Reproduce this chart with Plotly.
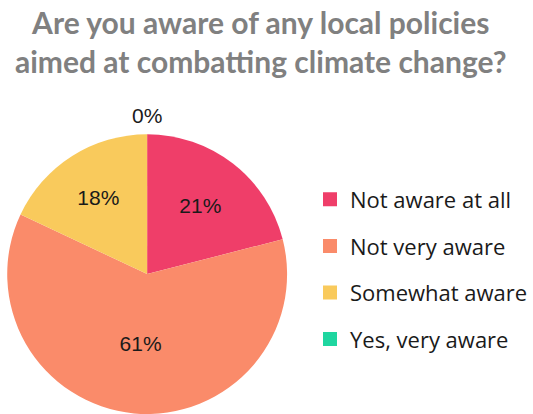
import plotly.graph_objects as go

categories = ["Not aware at all", "Not very aware", "Somewhat aware", "Yes, very aware"]
values = [21, 61, 18, 0]
colors = ["#EF3E69", "#FA8B6A", "#F9CA5C", "#1FD6A0"]
title_text = "Are you aware of any local policies<br>aimed at combatting climate change?"

total = sum(values)
zero_labels = [f"{round(100 * v / total)}%" for v in values if v == 0]

fig = go.Figure()
fig.add_trace(go.Pie(
    labels=categories, values=values, sort=False, direction="clockwise", rotation=0,
    marker=dict(colors=colors, line=dict(width=0)),
    texttemplate="%{percent:.0%}",
    textposition=["inside" if v > 0 else "none" for v in values],
    insidetextorientation="horizontal",
    textfont=dict(family="Liberation Sans", size=21, color="#1a1a1a"),
    showlegend=False, domain=dict(x=[0.0131, 0.5422], y=[0.0, 0.676]),
    hoverinfo="label+percent",
))
for i, c in enumerate(categories):
    fig.add_trace(go.Scatter(
        x=[None], y=[None], mode="markers", name=c, legendgroup=str(i),
        marker=dict(symbol="square", size=14, color=colors[i]),
    ))

annotations = [dict(text=title_text, x=0.492, xref="paper", xanchor="center",
                    y=0.996, yref="paper", yanchor="top", showarrow=False,
                    font=dict(family="Lato", size=30, color="#808080", weight="bold"))]
for t in zero_labels:
    annotations.append(dict(text=t, x=148 / 533, xref="paper", xanchor="center",
                            y=1 - 115 / 414, yref="paper", yanchor="middle", showarrow=False,
                            font=dict(family="Liberation Sans", size=21, color="#1a1a1a")))

fig.update_layout(
    width=533, height=414,
    margin=dict(l=0, r=0, t=0, b=0),
    paper_bgcolor="white", plot_bgcolor="white",
    annotations=annotations,
    xaxis=dict(visible=False), yaxis=dict(visible=False),
    legend=dict(x=0.585, y=0.349, xanchor="left", yanchor="middle",
                font=dict(family="Open Sans", size=22, color="#1a1a1a"),
                tracegroupgap=15, itemwidth=30, traceorder="grouped"),
)
fig.write_html("out.html", config={"displayModeBar": False},
               post_script="document.body.style.margin='0';")
